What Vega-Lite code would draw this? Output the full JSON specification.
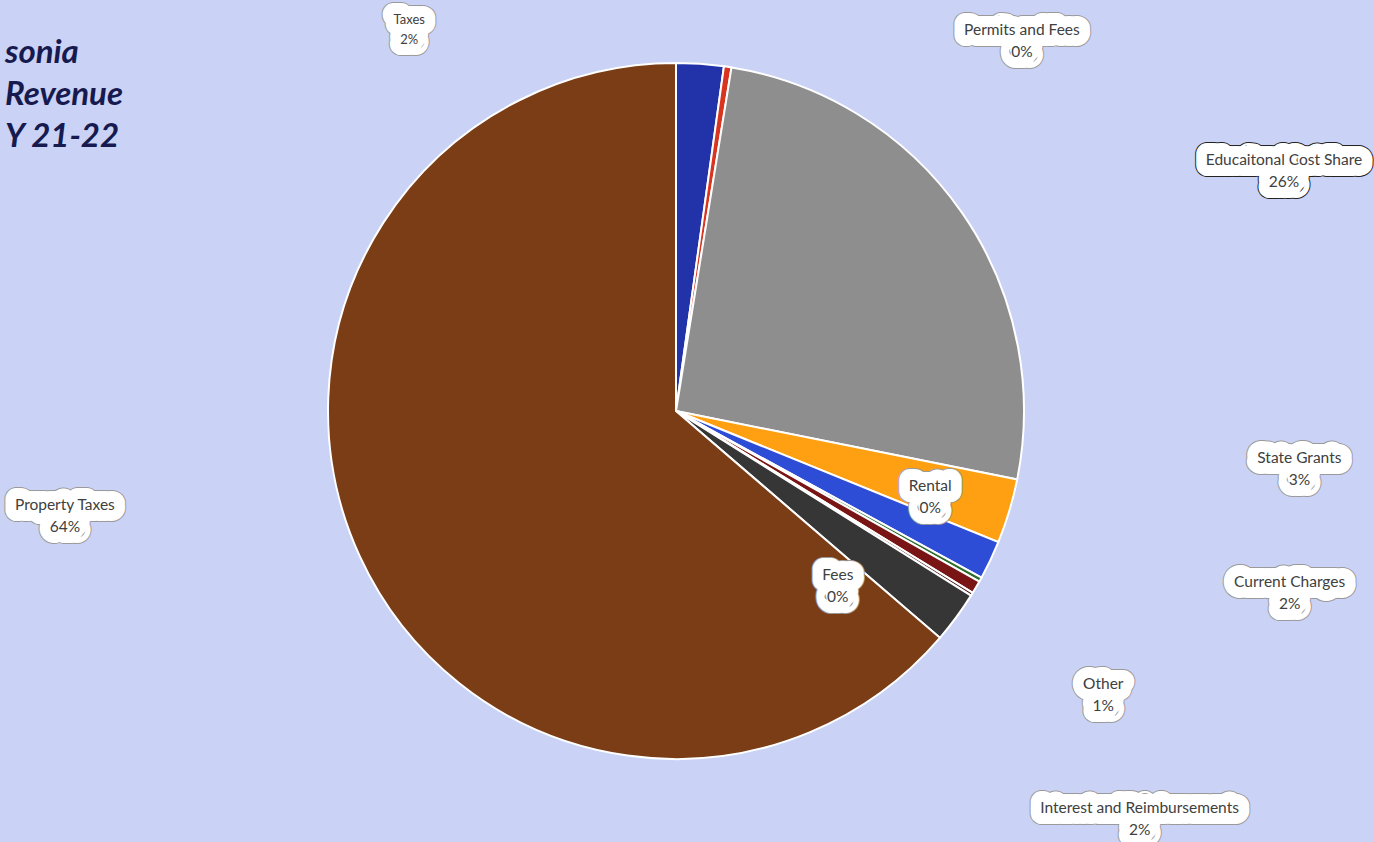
{
  "$schema": "https://vega.github.io/schema/vega-lite/v6.json",
  "width": 1352,
  "height": 822,
  "autosize": {"type": "none"},
  "padding": {"left": 0, "top": 0, "right": 22, "bottom": 20},
  "background": "#cad2f5",
  "view": {"stroke": null},
  "title": {
    "text": ["sonia", "Revenue", "Y 21-22"],
    "orient": "none",
    "anchor": "start",
    "frame": "group",
    "baseline": "top",
    "dx": 5,
    "dy": 37,
    "font": "Lato",
    "fontSize": 33,
    "fontStyle": "italic",
    "fontWeight": "bold",
    "color": "#161a4e",
    "lineHeight": 42
  },
  "config": {
    "text": {"font": "Lato", "lineBreak": "\n", "align": "center", "baseline": "middle", "fontSize": 15.5, "lineHeight": 22, "dy": -10.5}
  },
  "data": {
    "values": [
      {"category": "Taxes", "share": 2.2, "rank": 1, "label": "Taxes\n2%"},
      {"category": "Permits and Fees", "share": 0.35, "rank": 2, "label": "Permits and Fees\n0%"},
      {"category": "Educaitonal Cost Share", "share": 25.6, "rank": 3, "label": "Educaitonal Cost Share\n26%"},
      {"category": "State Grants", "share": 3.0, "rank": 4, "label": "State Grants\n3%"},
      {"category": "Current Charges", "share": 1.8, "rank": 5, "label": "Current Charges\n2%"},
      {"category": "Rental", "share": 0.2, "rank": 6, "label": "Rental\n0%"},
      {"category": "Other", "share": 0.6, "rank": 7, "label": "Other\n1%"},
      {"category": "Fees", "share": 0.15, "rank": 8, "label": "Fees\n0%"},
      {"category": "Interest and Reimbursements", "share": 2.4, "rank": 9, "label": "Interest and Reimbursements\n2%"},
      {"category": "Property Taxes", "share": 63.7, "rank": 10, "label": "Property Taxes\n64%"}
    ]
  },
  "encoding": {
    "theta": {"field": "share", "type": "quantitative", "stack": true},
    "order": {"field": "rank", "type": "quantitative"},
    "detail": {"field": "category", "type": "nominal"}
  },
  "layer": [
    {
      "mark": {"type": "arc", "outerRadius": 348, "stroke": "#ffffff", "strokeWidth": 2},
      "encoding": {
        "color": {
          "field": "category",
          "type": "nominal",
          "legend": null,
          "scale": {
            "domain": ["Taxes", "Permits and Fees", "Educaitonal Cost Share", "State Grants", "Current Charges", "Rental", "Other", "Fees", "Interest and Reimbursements", "Property Taxes"],
            "range": ["#2232a8", "#d8341f", "#8e8e8e", "#ffa012", "#2e4dd6", "#2d6e2d", "#7a1515", "#4a2020", "#363636", "#7a3d16"]
          }
        }
      }
    },
    {
      "encoding": {"text": {"condition": {"test": "datum.category === 'Taxes'", "field": "label", "type": "nominal"}, "value": ""}},
      "layer": [
        {"mark": {"type": "text", "radius": 465, "thetaOffset": -0.68, "fontSize": 13, "lineHeight": 20, "dy": -10, "stroke": "#9a9a9a", "strokeWidth": 24, "strokeJoin": "round"}},
        {"mark": {"type": "text", "radius": 465, "thetaOffset": -0.68, "fontSize": 13, "lineHeight": 20, "dy": -10, "stroke": "#ffffff", "strokeWidth": 22, "strokeJoin": "round"}},
        {"mark": {"type": "text", "radius": 465, "thetaOffset": -0.68, "fontSize": 13, "lineHeight": 20, "dy": -10, "color": "#404040"}}
      ]
    },
    {
      "encoding": {"text": {"condition": {"test": "datum.category === 'Permits and Fees'", "field": "label", "type": "nominal"}, "value": ""}},
      "layer": [
        {"mark": {"type": "text", "radius": 509, "thetaOffset": 0.598, "dy": -8, "stroke": "#9a9a9a", "strokeWidth": 24, "strokeJoin": "round"}},
        {"mark": {"type": "text", "radius": 509, "thetaOffset": 0.598, "dy": -8, "stroke": "#ffffff", "strokeWidth": 22, "strokeJoin": "round"}},
        {"mark": {"type": "text", "radius": 509, "thetaOffset": 0.598, "dy": -8, "color": "#404040"}}
      ]
    },
    {
      "encoding": {"text": {"condition": {"test": "datum.category === 'Educaitonal Cost Share'", "field": "label", "type": "nominal"}, "value": ""}},
      "layer": [
        {"mark": {"type": "text", "radius": 654, "thetaOffset": 0.229, "stroke": "#222222", "strokeWidth": 24, "strokeJoin": "round"}},
        {"mark": {"type": "text", "radius": 654, "thetaOffset": 0.229, "stroke": "#ffffff", "strokeWidth": 22, "strokeJoin": "round"}},
        {"mark": {"type": "text", "radius": 654, "thetaOffset": 0.229, "color": "#404040"}}
      ]
    },
    {
      "encoding": {"text": {"condition": {"test": "datum.category === 'State Grants'", "field": "label", "type": "nominal"}, "value": ""}},
      "layer": [
        {"mark": {"type": "text", "radius": 626, "thetaOffset": -0.2, "stroke": "#9a9a9a", "strokeWidth": 24, "strokeJoin": "round"}},
        {"mark": {"type": "text", "radius": 626, "thetaOffset": -0.2, "stroke": "#ffffff", "strokeWidth": 22, "strokeJoin": "round"}},
        {"mark": {"type": "text", "radius": 626, "thetaOffset": -0.2, "color": "#404040"}}
      ]
    },
    {
      "encoding": {"text": {"condition": {"test": "datum.category === 'Current Charges'", "field": "label", "type": "nominal"}, "value": ""}},
      "layer": [
        {"mark": {"type": "text", "radius": 640, "thetaOffset": -0.155, "stroke": "#9a9a9a", "strokeWidth": 24, "strokeJoin": "round"}},
        {"mark": {"type": "text", "radius": 640, "thetaOffset": -0.155, "stroke": "#ffffff", "strokeWidth": 22, "strokeJoin": "round"}},
        {"mark": {"type": "text", "radius": 640, "thetaOffset": -0.155, "color": "#404040"}}
      ]
    },
    {
      "encoding": {"text": {"condition": {"test": "datum.category === 'Rental'", "field": "label", "type": "nominal"}, "value": ""}},
      "layer": [
        {"mark": {"type": "text", "radius": 268, "thetaOffset": -0.183, "stroke": "#9a9a9a", "strokeWidth": 24, "strokeJoin": "round"}},
        {"mark": {"type": "text", "radius": 268, "thetaOffset": -0.183, "stroke": "#ffffff", "strokeWidth": 22, "strokeJoin": "round"}},
        {"mark": {"type": "text", "radius": 268, "thetaOffset": -0.183, "color": "#404040"}}
      ]
    },
    {
      "encoding": {"text": {"condition": {"test": "datum.category === 'Other'", "field": "label", "type": "nominal"}, "value": ""}},
      "layer": [
        {"mark": {"type": "text", "radius": 513, "thetaOffset": 0.0555, "stroke": "#9a9a9a", "strokeWidth": 24, "strokeJoin": "round"}},
        {"mark": {"type": "text", "radius": 513, "thetaOffset": 0.0555, "stroke": "#ffffff", "strokeWidth": 22, "strokeJoin": "round"}},
        {"mark": {"type": "text", "radius": 513, "thetaOffset": 0.0555, "color": "#404040"}}
      ]
    },
    {
      "encoding": {"text": {"condition": {"test": "datum.category === 'Fees'", "field": "label", "type": "nominal"}, "value": ""}},
      "layer": [
        {"mark": {"type": "text", "radius": 238, "thetaOffset": 0.269, "stroke": "#9a9a9a", "strokeWidth": 24, "strokeJoin": "round"}},
        {"mark": {"type": "text", "radius": 238, "thetaOffset": 0.269, "stroke": "#ffffff", "strokeWidth": 22, "strokeJoin": "round"}},
        {"mark": {"type": "text", "radius": 238, "thetaOffset": 0.269, "color": "#404040"}}
      ]
    },
    {
      "encoding": {"text": {"condition": {"test": "datum.category === 'Interest and Reimbursements'", "field": "label", "type": "nominal"}, "value": ""}},
      "layer": [
        {"mark": {"type": "text", "radius": 617, "thetaOffset": 0.086, "stroke": "#9a9a9a", "strokeWidth": 24, "strokeJoin": "round"}},
        {"mark": {"type": "text", "radius": 617, "thetaOffset": 0.086, "stroke": "#ffffff", "strokeWidth": 22, "strokeJoin": "round"}},
        {"mark": {"type": "text", "radius": 617, "thetaOffset": 0.086, "color": "#404040"}}
      ]
    },
    {
      "encoding": {"text": {"condition": {"test": "datum.category === 'Property Taxes'", "field": "label", "type": "nominal"}, "value": ""}},
      "layer": [
        {"mark": {"type": "text", "radius": 620, "thetaOffset": 0.261, "stroke": "#9a9a9a", "strokeWidth": 24, "strokeJoin": "round"}},
        {"mark": {"type": "text", "radius": 620, "thetaOffset": 0.261, "stroke": "#ffffff", "strokeWidth": 22, "strokeJoin": "round"}},
        {"mark": {"type": "text", "radius": 620, "thetaOffset": 0.261, "color": "#404040"}}
      ]
    }
  ]
}
